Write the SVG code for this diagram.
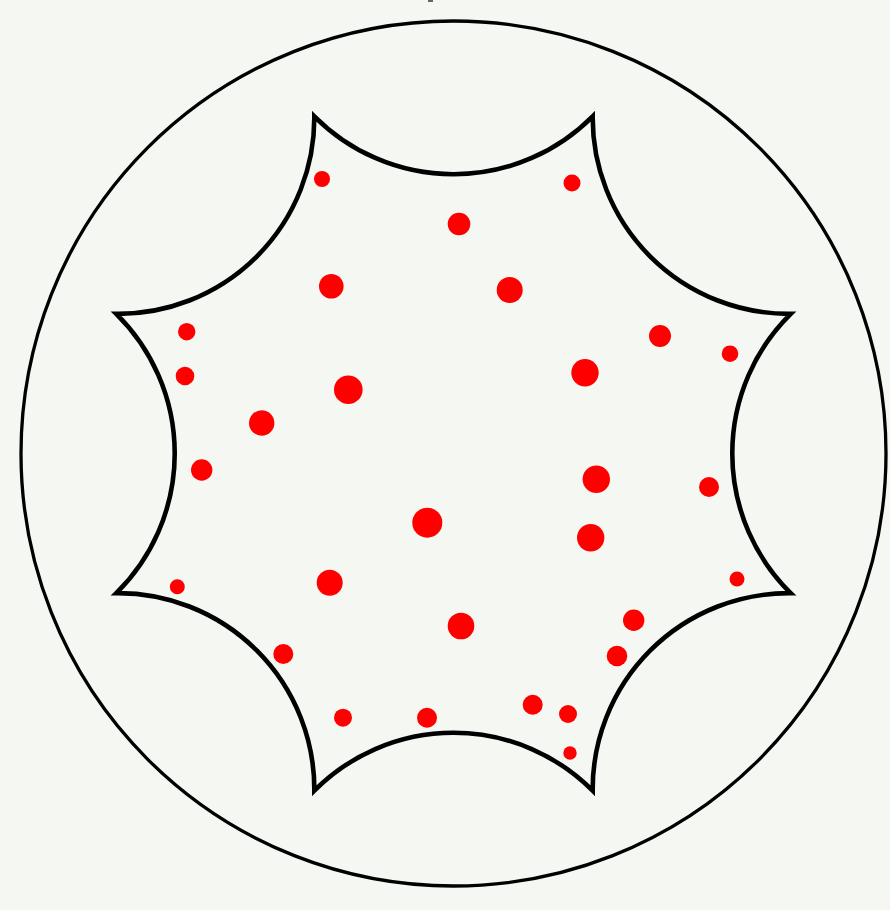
<svg xmlns="http://www.w3.org/2000/svg" width="890" height="910" viewBox="0 0 890 910">
<style>
.disk{fill:none;stroke:#000;stroke-width:3.3}
.oct{fill:none;stroke:#000;stroke-width:4.6;stroke-linejoin:miter;stroke-miterlimit:20}
.dot{fill:#ff0000}
</style>
<rect width="890" height="910" fill="#f5f7f3"/>
<rect x="428" y="0" width="5" height="2" fill="#666"/>
<g id="disk"><circle class="disk" cx="453.5" cy="453.5" r="432.5"/></g>
<g id="octagon">
<path class="oct" d="M314.32,116.28 A196.15,196.15 0 0 0 592.68,116.28 A196.15,196.15 0 0 0 790.72,313.82 A196.15,196.15 0 0 0 790.72,593.18 A196.15,196.15 0 0 0 592.68,790.72 A196.15,196.15 0 0 0 314.32,790.72 A196.15,196.15 0 0 0 116.28,593.18 A196.15,196.15 0 0 0 116.28,313.82 A196.15,196.15 0 0 0 314.32,116.28 Z"/>
</g>
<g id="points">
<circle class="dot" cx="322" cy="179" r="8"/>
<circle class="dot" cx="572" cy="183" r="8.5"/>
<circle class="dot" cx="459" cy="224" r="11.3"/>
<circle class="dot" cx="331.3" cy="286.3" r="12.3"/>
<circle class="dot" cx="509.7" cy="290" r="13"/>
<circle class="dot" cx="186.7" cy="331.7" r="8.7"/>
<circle class="dot" cx="660" cy="336" r="11"/>
<circle class="dot" cx="730" cy="353.7" r="8.3"/>
<circle class="dot" cx="185" cy="376" r="9.3"/>
<circle class="dot" cx="348.3" cy="389.7" r="14.3"/>
<circle class="dot" cx="585" cy="372.7" r="13.7"/>
<circle class="dot" cx="261.7" cy="423" r="12.7"/>
<circle class="dot" cx="201.7" cy="470" r="10.7"/>
<circle class="dot" cx="596.3" cy="479.3" r="13.7"/>
<circle class="dot" cx="709" cy="487" r="10"/>
<circle class="dot" cx="427.3" cy="522.7" r="15"/>
<circle class="dot" cx="590.7" cy="537.7" r="13.7"/>
<circle class="dot" cx="737" cy="579" r="7.5"/>
<circle class="dot" cx="177.3" cy="586.7" r="7.5"/>
<circle class="dot" cx="329.7" cy="582.7" r="13"/>
<circle class="dot" cx="633.7" cy="620.3" r="10.7"/>
<circle class="dot" cx="461" cy="626" r="13.3"/>
<circle class="dot" cx="617" cy="656" r="10.3"/>
<circle class="dot" cx="283.3" cy="654" r="10"/>
<circle class="dot" cx="343" cy="717.7" r="9"/>
<circle class="dot" cx="427" cy="717.7" r="10"/>
<circle class="dot" cx="532.7" cy="704.7" r="10"/>
<circle class="dot" cx="568" cy="714" r="9"/>
<circle class="dot" cx="570" cy="753" r="6.7"/>
</g>
</svg>
